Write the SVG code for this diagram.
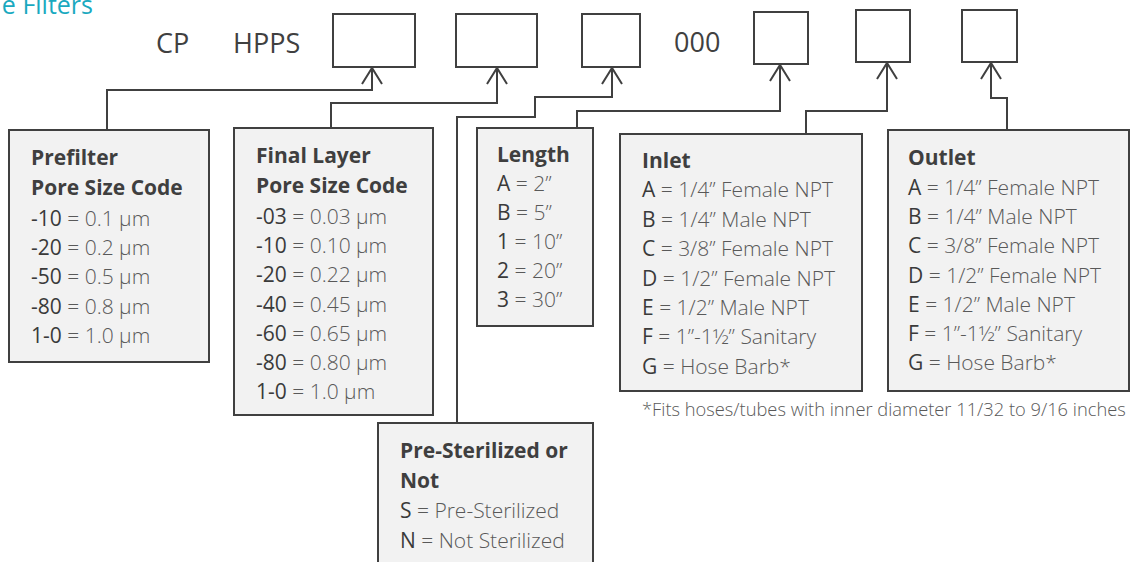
<svg xmlns="http://www.w3.org/2000/svg" width="1131" height="562" viewBox="0 0 1131 562">
<style>
text{font-family:"Open Sans","Noto Sans","Liberation Sans",sans-serif;}
.top{font-size:27px;fill:#404040;}
.title{font-size:25px;fill:#1aa9bf;}
.slot{fill:#ffffff;stroke:#404040;stroke-width:2;}
.card{fill:#f2f2f2;stroke:#404040;stroke-width:2;}
.h{font-size:21px;font-weight:700;fill:#3f3f3f;}
.b{font-size:21px;font-weight:300;fill:#595959;}
.k{font-weight:400;fill:#3a3a3a;}
.note{font-size:18.3px;font-weight:300;fill:#595959;}
.conn path{fill:none;stroke:#404040;stroke-width:2;}
</style>
<defs>
<marker id="arr" markerUnits="userSpaceOnUse" markerWidth="30" markerHeight="30" refX="0" refY="0" orient="auto" overflow="visible">
<path d="M-16,-10 L0,0 L-16,10" fill="none" stroke="#404040" stroke-width="2"/>
</marker>
</defs>
<text class="title" x="93" y="14" text-anchor="end">e Filters</text>
<g id="code">
<text class="top" x="156" y="53">CP</text>
<text class="top" x="233" y="53">HPPS</text>
<text class="top" x="674" y="52">000</text>
<rect id="slot1" class="slot" x="333" y="14" width="82" height="53"/>
<rect id="slot2" class="slot" x="456" y="14" width="81" height="53"/>
<rect id="slot3" class="slot" x="582" y="14" width="58" height="53"/>
<rect id="slot4" class="slot" x="754" y="12" width="54" height="52"/>
<rect id="slot5" class="slot" x="856" y="10" width="54" height="52"/>
<rect id="slot6" class="slot" x="962" y="10" width="55" height="52"/>
</g>
<g class="conn" id="connectors">
<path d="M107,130 V90 H372 V68" marker-end="url(#arr)"/>
<path d="M331,128 V103 H497 V68" marker-end="url(#arr)"/>
<path d="M457,423 V117 H535 V97 H612 V68" marker-end="url(#arr)"/>
<path d="M577,128 V111 H780 V65" marker-end="url(#arr)"/>
<path d="M806,134 V111 H887 V63" marker-end="url(#arr)"/>
<path d="M1007,130 V98 H991 V63" marker-end="url(#arr)"/>
</g>
<g id="prefilter">
<rect class="card" x="9" y="130" width="200" height="232"/>
<text class="h" x="31" y="165">Prefilter</text>
<text class="h" x="31" y="195">Pore Size Code</text>
<text class="b" x="31" y="226"><tspan class="k">-10</tspan> = 0.1 µm</text>
<text class="b" x="31" y="255"><tspan class="k">-20</tspan> = 0.2 µm</text>
<text class="b" x="31" y="284"><tspan class="k">-50</tspan> = 0.5 µm</text>
<text class="b" x="31" y="314"><tspan class="k">-80</tspan> = 0.8 µm</text>
<text class="b" x="31" y="343"><tspan class="k">1-0</tspan> = 1.0 µm</text>
</g>
<g id="final-layer">
<rect class="card" x="234" y="128" width="199" height="287"/>
<text class="h" x="256" y="163">Final Layer</text>
<text class="h" x="256" y="193">Pore Size Code</text>
<text class="b" x="256" y="224"><tspan class="k">-03</tspan> = 0.03 µm</text>
<text class="b" x="256" y="253"><tspan class="k">-10</tspan> = 0.10 µm</text>
<text class="b" x="256" y="282"><tspan class="k">-20</tspan> = 0.22 µm</text>
<text class="b" x="256" y="312"><tspan class="k">-40</tspan> = 0.45 µm</text>
<text class="b" x="256" y="341"><tspan class="k">-60</tspan> = 0.65 µm</text>
<text class="b" x="256" y="370"><tspan class="k">-80</tspan> = 0.80 µm</text>
<text class="b" x="256" y="399"><tspan class="k">1-0</tspan> = 1.0 µm</text>
</g>
<g id="length">
<rect class="card" x="477" y="128" width="116" height="198"/>
<text class="h" x="497" y="162">Length</text>
<text class="b" x="497" y="191"><tspan class="k">A</tspan> = 2”</text>
<text class="b" x="497" y="220"><tspan class="k">B</tspan> = 5”</text>
<text class="b" x="497" y="249"><tspan class="k">1</tspan> = 10”</text>
<text class="b" x="497" y="278"><tspan class="k">2</tspan> = 20”</text>
<text class="b" x="497" y="307"><tspan class="k">3</tspan> = 30”</text>
</g>
<g id="inlet">
<rect class="card" x="620" y="134" width="242" height="257"/>
<text class="h" x="642" y="168">Inlet</text>
<text class="b" x="642" y="197"><tspan class="k">A</tspan> = 1/4” Female NPT</text>
<text class="b" x="642" y="227"><tspan class="k">B</tspan> = 1/4” Male NPT</text>
<text class="b" x="642" y="256"><tspan class="k">C</tspan> = 3/8” Female NPT</text>
<text class="b" x="642" y="286"><tspan class="k">D</tspan> = 1/2” Female NPT</text>
<text class="b" x="642" y="315"><tspan class="k">E</tspan> = 1/2” Male NPT</text>
<text class="b" x="642" y="344"><tspan class="k">F</tspan> = 1”-1½” Sanitary</text>
<text class="b" x="642" y="374"><tspan class="k">G</tspan> = Hose Barb*</text>
</g>
<g id="outlet">
<rect class="card" x="888" y="130" width="241" height="261"/>
<text class="h" x="908" y="165">Outlet</text>
<text class="b" x="908" y="195"><tspan class="k">A</tspan> = 1/4” Female NPT</text>
<text class="b" x="908" y="224"><tspan class="k">B</tspan> = 1/4” Male NPT</text>
<text class="b" x="908" y="253"><tspan class="k">C</tspan> = 3/8” Female NPT</text>
<text class="b" x="908" y="283"><tspan class="k">D</tspan> = 1/2” Female NPT</text>
<text class="b" x="908" y="312"><tspan class="k">E</tspan> = 1/2” Male NPT</text>
<text class="b" x="908" y="341"><tspan class="k">F</tspan> = 1”-1½” Sanitary</text>
<text class="b" x="908" y="370"><tspan class="k">G</tspan> = Hose Barb*</text>
</g>
<g id="sterilized">
<rect class="card" x="378" y="423" width="215" height="150"/>
<text class="h" x="400" y="458">Pre-Sterilized or</text>
<text class="h" x="400" y="488">Not</text>
<text class="b" x="400" y="518"><tspan class="k">S</tspan> = Pre-Sterilized</text>
<text class="b" x="400" y="548"><tspan class="k">N</tspan> = Not Sterilized</text>
</g>
<text class="note" x="642" y="416">*Fits hoses/tubes with inner diameter 11/32 to 9/16 inches</text>
</svg>
